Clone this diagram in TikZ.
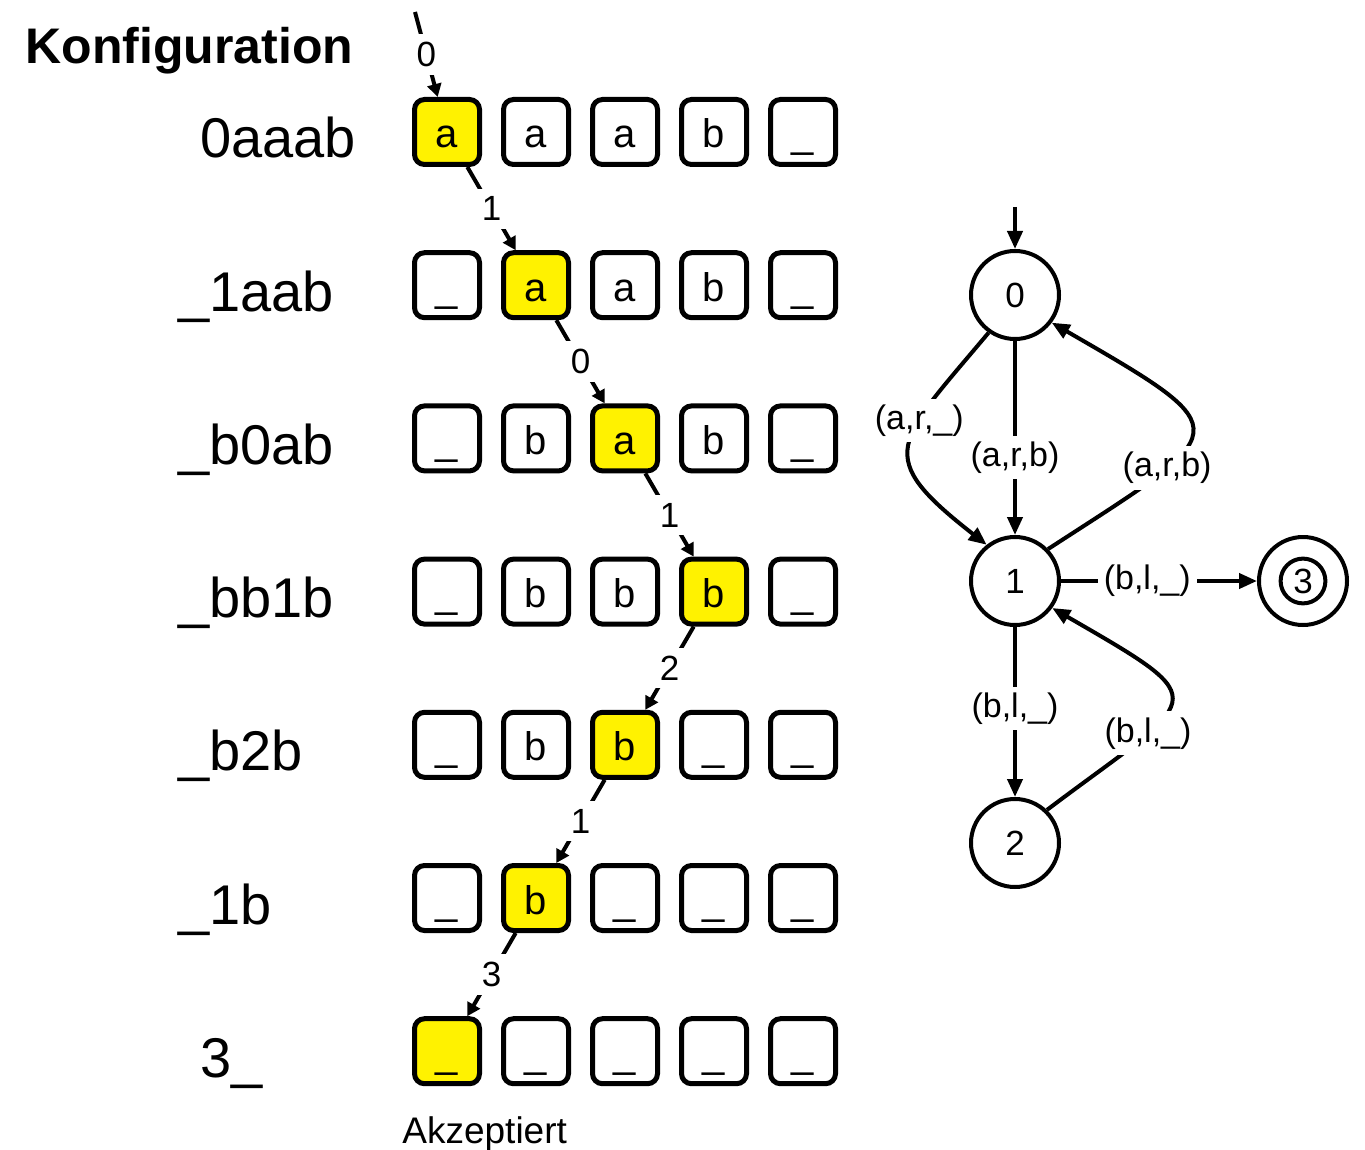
\documentclass[tikz,border=0pt]{standalone}
\usepackage{fontspec}
\setmainfont{Liberation Sans}
\usetikzlibrary{arrows.meta}

\tikzset{
  cell/.style={draw, fill=white, line width=2.5pt, rounded corners=5pt, minimum width=32.5pt, minimum height=32.5pt,
    inner sep=2pt, text height=16pt, text depth=0pt, font=\fontsize{20}{24}\selectfont},
  headcell/.style={cell, fill=yellow},
  stepline/.style={line width=2pt, -{Triangle[length=6.5pt,width=7pt]}},
  steplbl/.style={fill=white, inner sep=4pt, font=\fontsize{17.5}{20}\selectfont},
  rowlbl/.style={anchor=base west, inner sep=0pt, font=\fontsize{28}{33}\selectfont},
  state/.style={circle, draw, line width=2pt, minimum size=44pt, inner sep=0pt, font=\fontsize{17.5}{20}\selectfont},
  trans/.style={line width=2pt, -{Triangle[length=9pt,width=7.5pt]}},
  translbl/.style={fill=white, inner sep=3pt, font=\fontsize{17}{20}\selectfont}
}

\begin{document}
\begin{tikzpicture}[x=0.5pt,y=0.5pt]
  \useasboundingbox (0,0) rectangle (1365,-1150);
  \node[anchor=base west, inner sep=0pt, font=\bfseries\fontsize{25}{30}\selectfont] (title) at (25,-64) {Konfiguration};
  % row / head / label x / label / tape
  \foreach \r/\h/\lx/\lbl/\cells in {0/0/200/0aaab/{a,a,a,b,\_}, 1/1/178/\_1aab/{\_,a,a,b,\_},
      2/2/178/\_b0ab/{\_,b,a,b,\_}, 3/3/178/\_bb1b/{\_,b,b,b,\_}, 4/2/178/\_b2b/{\_,b,b,\_,\_},
      5/1/178/\_1b/{\_,b,\_,\_,\_}, 6/0/200/3\_/{\_,\_,\_,\_,\_}}{
    \node[rowlbl] (lbl\r) at (\lx,-158-153.2*\r) {\lbl};
    \foreach \t [count=\i from 0] in \cells {
      \ifnum\i=\h\relax
        \node[headcell] (c\r-\i) at (447+89*\i,-132-153.2*\r) {\t};
      \else
        \node[cell] (c\r-\i) at (447+89*\i,-132-153.2*\r) {\t};
      \fi
    }
  }
  \coordinate (start) at (415,-12);
  \foreach \a/\b/\s in {start/c0-0/0, c0-0/c1-1/1, c1-1/c2-2/0, c2-2/c3-3/1, c3-3/c4-2/2, c4-2/c5-1/1, c5-1/c6-0/3}
    \draw[stepline] (\a) -- node[steplbl] {\s} (\b);
  \node[anchor=base west, inner sep=0pt, font=\fontsize{18.5}{22}\selectfont] (acc) at (402,-1143) {Akzeptiert};

  % the machine
  \node[state] (s0) at (1015,-295) {0};
  \node[state] (s1) at (1015,-581) {1};
  \node[state] (s2) at (1015,-843) {2};
  \node[state, path picture={\draw[line width=2pt] (path picture bounding box.center) circle[radius=11.2pt];}] (s3) at (1303,-581) {3};
  \coordinate (init) at (1015,-207);
  \draw[trans] (init) -- (s0);
  \draw[trans] (s0) -- node[translbl, pos=0.6] {(a,r,b)} (s1);
  \draw[trans] (s0.235) to[out=230, in=142, looseness=1.75] node[translbl, pos=0.35] {(a,r,\_)} (s1.128);
  \draw[trans] (s1.44) to[out=33, in=-30, looseness=2.5] node[translbl, pos=0.3] {(a,r,b)} (s0.-37);
  \draw[trans] (s1) -- node[translbl, pos=0.44] {(b,l,\_)} (s3);
  \draw[trans] (s1) -- node[translbl, pos=0.48] {(b,l,\_)} (s2);
  \draw[trans] (s2.46) to[out=37, in=-30, looseness=2.45] node[translbl, pos=0.3] {(b,l,\_)} (s1.-36);
\end{tikzpicture}
\end{document}
